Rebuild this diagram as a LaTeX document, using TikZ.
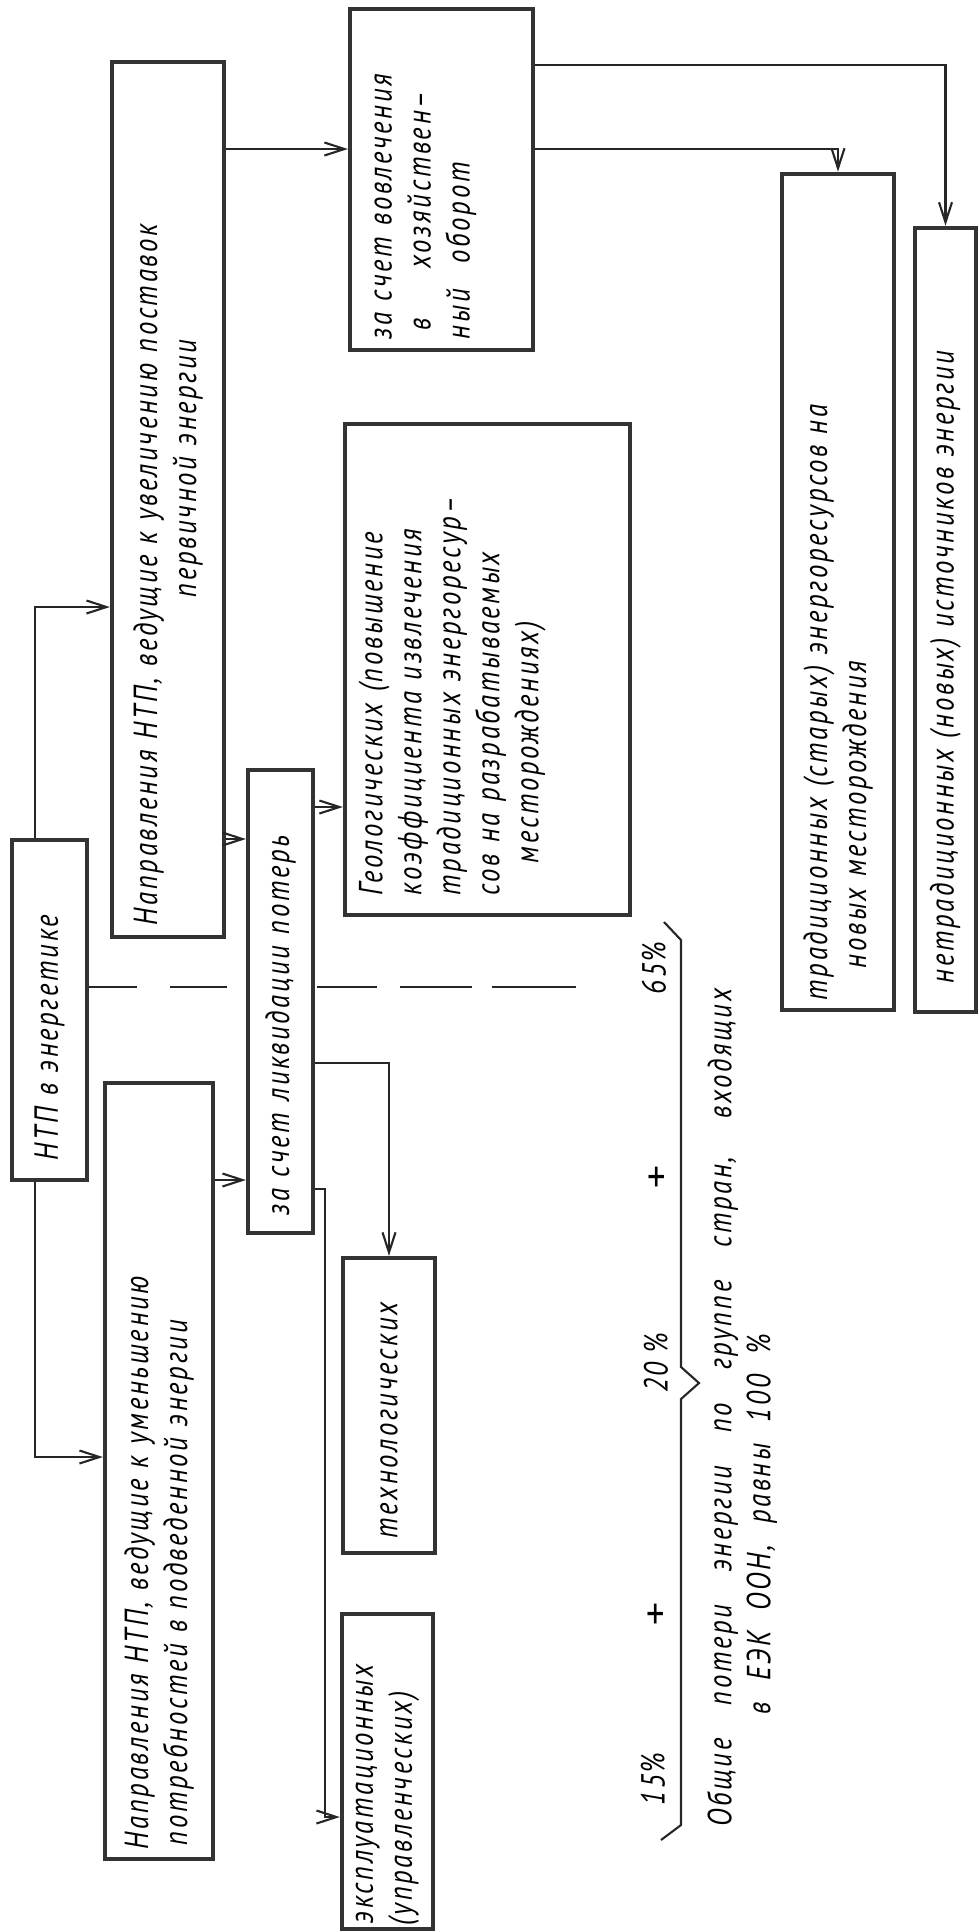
\documentclass[tikz,border=0pt]{standalone}
\usepackage{fontspec}
\setmainfont{PT Sans}[FakeStretch=0.8, LetterSpace=8]
\usetikzlibrary{arrows.meta, calc}
\newcommand{\spreadln}[2]{\makebox[#1][s]{#2}}

\begin{document}
\begin{tikzpicture}[
  x=0.01cm, y=-0.01cm,
  box/.style  = {draw=black!80, line width=1.2pt, rotate=90, inner sep=0pt,
                 align=left, fill=white,
                 font=\itshape\fontsize{9.5}{11.1}\selectfont},
  lbl/.style  = {rotate=90, inner sep=0pt,
                 font=\itshape\fontsize{9.5}{11.1}\selectfont},
  plus/.style = {inner sep=0pt, font=\fontsize{13}{13}\selectfont},
  arr/.style  = {-{Straight Barb[length=2mm,width=1.3mm]}, line width=0.6pt, black!85},
  divider/.style = {line width=0.6pt, black!85}
]
\useasboundingbox (0,0) rectangle (979,1932);

\foreach \a/\b in {88/137, 170/227, 317/377, 400/472, 492/576}
  \draw[divider] (\a,987) -- (\b,987);

\node[box, text width=3.4cm, minimum height=0.75cm] (ntp) at (49.5,1010)
  {\hspace*{0.2cm}\spreadln{2.77cm}{НТП в энергетике}};
\node[box, text width=8.75cm, minimum height=1.12cm] (incr) at (168,499.5)
  {\hspace*{0.12cm}\spreadln{8.18cm}{Направления НТП, ведущие к увеличению поставок}\\
   \hspace*{3.4cm}\spreadln{2.9cm}{первичной энергии}};
\node[box, text width=3.41cm, minimum height=1.83cm] (invol) at (441.5,179.5)
  {\hspace*{0.11cm}\spreadln{3.03cm}{за счет вовлечения}\\
   \hspace*{0.2cm}\makebox[0.62cm][l]{в}хозяйствен–\\
   \hspace*{0.11cm}\makebox[0.76cm][l]{ный}оборот\\ \mbox{}};
\node[box, text width=4.91cm, minimum height=2.85cm] (geo) at (487.5,669.5)
  {\hspace*{0.2cm}\spreadln{4.45cm}{Геологических (повышение}\\
   \hspace*{0.2cm}\spreadln{4.45cm}{коэффициента извлечения}\\
   \hspace*{0.2cm}\spreadln{4.45cm}{традиционных энергоресур–}\\
   \hspace*{0.2cm}\spreadln{4.45cm}{сов на разрабатываемых}\\
   \hspace*{0.52cm}месторождениях)\\ \mbox{}\\ \mbox{}};
\node[box, text width=4.63cm, minimum height=0.65cm] (zas) at (280.5,1001.5)
  {\hspace*{0.18cm}\spreadln{4.05cm}{за счет ликвидации потерь}};
\node[box, text width=8.36cm, minimum height=1.12cm] (trad) at (838,592)
  {\hspace*{0.1cm}\spreadln{7.14cm}{традиционных (старых) энергоресурсов на}\\
   \hspace*{0.42cm}\spreadln{4.23cm}{новых месторождения}};
\node[box, text width=7.84cm, minimum height=0.61cm] (netrad) at (945.5,620)
  {\hspace*{0.29cm}\spreadln{7.38cm}{нетрадиционных (новых) источников энергии}};
\node[box, text width=7.76cm, minimum height=1.08cm] (reduce) at (159,1471)
  {\hspace*{0.1cm}\spreadln{6.61cm}{Направления НТП, ведущие к уменьшению}\\
   \hspace*{0.14cm}\spreadln{5.9cm}{потребностей в подведенной энергии}};
\node[box, text width=2.95cm, minimum height=0.92cm] (tech) at (389,1405.5)
  {\hspace*{0.15cm}технологических};
\node[box, text width=3.15cm, minimum height=0.91cm] (exp) at (387.5,1771.5)
  {\hspace*{0.06cm}эксплуатационных\\
   \hspace*{0.04cm}(управленческих)};

\coordinate (vNtp)     at (35,0);
\coordinate (vExp)     at (325,0);
\coordinate (hIncInv)  at (0,149);
\coordinate (hInvNet)  at (0,65);
\coordinate (hNtpIncr) at (0,607);
\coordinate (hZasGeo)  at (0,807);
\coordinate (hIncZas)  at (0,839);
\coordinate (hZasTech) at (0,1063);
\coordinate (hRedZas)  at (0,1180);
\coordinate (hZasExp)  at (0,1189);
\coordinate (hNtpRed)  at (0,1457);
\coordinate (hExpIn)   at (0,1817);

\draw[arr] (ntp.east -| vNtp) |- (incr.north |- hNtpIncr);
\draw[arr] (ntp.west -| vNtp) |- (reduce.north |- hNtpRed);
\draw[arr] (incr.south |- hIncInv) -- (invol.north |- hIncInv);
\draw[arr] (incr.south |- hIncZas) -- (zas.north |- hIncZas);
\draw[arr] (reduce.south |- hRedZas) -- (zas.north |- hRedZas);
\draw[arr] (zas.south |- hZasGeo) -- (geo.north |- hZasGeo);
\draw[arr] (zas.south |- hZasTech) -| (tech.east);
\draw[arr] (zas.south |- hZasExp) -| (vExp |- hExpIn) -- (exp.north |- hExpIn);
\draw[arr] (invol.south |- hIncInv) -| (trad.east);
\draw[arr] (invol.south |- hInvNet) -| (netrad.east);

\draw[divider] (664,922) -- (681,940) -- (681,1367) -- (699,1383)
  -- (681,1399) -- (681,1825) -- (661,1840);

\node[lbl]  (p65)   at (654,968)  {65\%};
\node[plus] (plusA) at (657,1180) {+};
\node[lbl]  (p20)   at (656,1363) {20 \%};
\node[plus] (plusB) at (656,1617) {+};
\node[lbl]  (p15)   at (653,1779) {15\%};

\node[lbl, align=left, anchor=west] (total) at (742,1827)
  {\spreadln{8.37cm}{Общие потери энергии по группе стран, входящих}\\
   \hspace*{1.12cm}\spreadln{3.8cm}{в ЕЭК ООН, равны 100 \%}};
\end{tikzpicture}
\end{document}
